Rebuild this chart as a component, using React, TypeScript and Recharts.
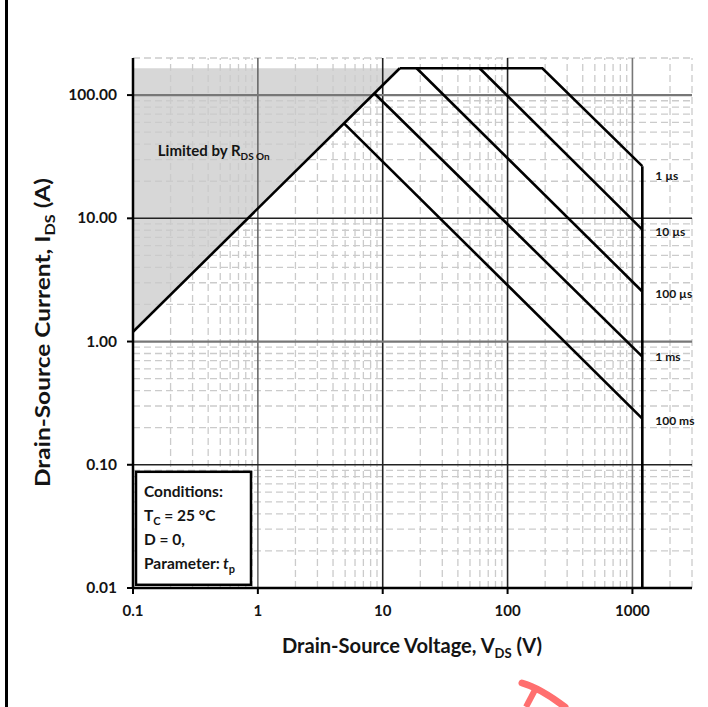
import React from 'react';
import {
  ComposedChart, Line, Area, XAxis, YAxis, ReferenceLine, ReferenceDot,
} from 'recharts';

// ---- axes ----
const xTicks = [0.1, 1, 10, 100, 1000];
const xTickLabels = ['0.1', '1', '10', '100', '1000'];
const yTicks = [0.01, 0.1, 1, 10, 100];
const yTickLabels = ['0.01', '0.10', '1.00', '10.00', '100.00'];
const xDomain = [0.1, 3000];
const yDomain = [0.01, 200];

// ---- grid ----
const xMinor = [0.2, 0.3, 0.4, 0.5, 0.6, 0.7, 0.8, 0.9, 2, 3, 4, 5, 6, 7, 8, 9, 20, 30, 40, 50, 60, 70, 80, 90,
  200, 300, 400, 500, 600, 700, 800, 900, 2000, 3000];
const yMinor = [0.02, 0.03, 0.04, 0.05, 0.06, 0.07, 0.08, 0.09, 0.2, 0.3, 0.4, 0.5, 0.6, 0.7, 0.8, 0.9,
  2, 3, 4, 5, 6, 7, 8, 9, 20, 30, 40, 50, 60, 70, 80, 90, 200];
const xMajor = [1, 10, 100, 1000];
const xMajorColor = ['#6a6a6a', '#222', '#222', '#777'];
const yMajor = [0.1, 1, 10, 100];
const yMajorColor = ['#222', '#777', '#222', '#777'];

// ---- SOA curves (V in volts, I in amps) ----
const rdsLimit = [{ v: 0.1, i: 1.2 }, { v: 13.7, i: 165 }];
const rdsShade = [{ v: 0.1, r: [1.2, 165] }, { v: 13.7, r: [165, 165] }];
const curve1us = [{ v: 13.7, i: 165 }, { v: 190, i: 165 }, { v: 1200, i: 26.5 }];
const curve10us = [{ v: 59.7, i: 165 }, { v: 1200, i: 8.1 }];
const curve100us = [{ v: 18.7, i: 165 }, { v: 1200, i: 2.55 }];
const curve1ms = [{ v: 8.6, i: 103 }, { v: 1200, i: 0.755 }];
const curve100ms = [{ v: 4.9, i: 59 }, { v: 1200, i: 0.237 }];
const vdsMax = [{ v: 1200, i: 26.5 }, { v: 1200, i: 0.01 }];
const curves = [rdsLimit, curve1us, curve10us, curve100us, curve1ms, curve100ms, vdsMax];

const pulseLabels = ['1 µs', '10 µs', '100 µs', '1 ms', '100 ms'];
const pulseLabelI = [22, 7.7, 2.45, 0.755, 0.228];
const pulseLabelV = 1200;

// top-left corner of the "Conditions" box in data units
const condCorner = { v: 0.1057, i: 0.0877 };
const condLines = ['Conditions:', 'T', 'D = 0,', 'Parameter:'];

const FONT = 'Lato, "Open Sans", sans-serif';
const INK = '#141414';

const XTick = (props: any) => {
  const { x, y, payload, index } = props;
  return (
    <text x={x} y={y} dy={14} textAnchor="middle" fontFamily={FONT} fontWeight={700} fontSize={15} fill={INK}>
      {xTickLabels[xTicks.indexOf(payload.value)] ?? xTickLabels[index]}
    </text>
  );
};
const YTick = (props: any) => {
  const { x, y, payload, index } = props;
  return (
    <text x={x} y={y} dy={5} textAnchor="end" fontFamily={FONT} fontWeight={700} fontSize={15.5} fill={INK}>
      {yTickLabels[yTicks.indexOf(payload.value)] ?? yTickLabels[index]}
    </text>
  );
};

export default function App() {
  return (
    <div style={{ position: 'absolute', left: 0, top: 0, width: 708, height: 707, background: '#fff' }}>
      <div style={{ position: 'absolute', left: 5, top: 0, width: 3, height: 707, background: '#000' }} />
      <ComposedChart
        width={708}
        height={707}
        margin={{ top: 58, right: 16, bottom: 0, left: 0 }}
      >
        <XAxis
          type="number"
          dataKey="v"
          scale="log"
          domain={xDomain}
          ticks={xTicks}
          allowDataOverflow
          height={119}
          axisLine={{ stroke: '#000', strokeWidth: 2.5 }}
          tickLine={{ stroke: '#000', strokeWidth: 2 }}
          tickSize={6}
          tickMargin={8}
          tick={<XTick />}
          label={{
            content: () => (
              <text x={282} y={653} textLength={260} lengthAdjust="spacingAndGlyphs" fontFamily={FONT}
                fontWeight={700} fontSize={20} fill={INK}>
                Drain-Source Voltage, V<tspan fontSize={13} dy={5}>DS</tspan><tspan dy={-5}> (V)</tspan>
              </text>
            ),
          }}
        />
        <YAxis
          type="number"
          dataKey="i"
          scale="log"
          domain={yDomain}
          ticks={yTicks}
          allowDataOverflow
          width={133}
          axisLine={{ stroke: '#000', strokeWidth: 2.5 }}
          tickLine={{ stroke: '#000', strokeWidth: 2 }}
          tickSize={6}
          tickMargin={10}
          tick={<YTick />}
          label={{
            content: () => (
              <text x={0} y={0} transform="translate(50,487) rotate(-90)" textLength={309}
                lengthAdjust="spacingAndGlyphs" fontFamily={FONT} fontWeight={700} fontSize={21} fill={INK}>
                Drain-Source Current, I<tspan fontSize={14} dy={5}>DS</tspan><tspan dy={-5}> (A)</tspan>
              </text>
            ),
          }}
        />

        {xMinor.map((v) => (
          <ReferenceLine key={'xm' + v} x={v} stroke="#cbcbcb" strokeWidth={1.3} strokeDasharray="7 4" />
        ))}
        {yMinor.map((v) => (
          <ReferenceLine key={'ym' + v} y={v} stroke="#cbcbcb" strokeWidth={1.3} strokeDasharray="7 4" />
        ))}

        <Area
          data={rdsShade}
          dataKey="r"
          type="linear"
          stroke="none"
          fill="#bdbdbd"
          fillOpacity={0.6}
          isAnimationActive={false}
        />

        {xMajor.map((v, k) => (
          <ReferenceLine key={'xM' + v} x={v} stroke={xMajorColor[k]} strokeWidth={1.6} />
        ))}
        {yMajor.map((v, k) => (
          <ReferenceLine key={'yM' + v} y={v} stroke={yMajorColor[k]} strokeWidth={k % 2 ? 2.2 : 1.6} />
        ))}

        {curves.map((c, k) => (
          <Line
            key={'c' + k}
            data={c}
            dataKey="i"
            type="linear"
            stroke="#000"
            strokeWidth={2.6}
            dot={false}
            activeDot={false}
            isAnimationActive={false}
          />
        ))}

        {pulseLabels.map((t, k) => (
          <ReferenceDot
            key={'pl' + k}
            x={pulseLabelV}
            y={pulseLabelI[k]}
            r={1}
            fill="none"
            stroke="none"
            label={{
              content: (p: any) => {
                const vb = p.viewBox;
                return (
                  <text x={vb.x + vb.width / 2 + 13} y={vb.y + vb.height / 2 + 4} fontFamily={FONT}
                    fontWeight={700} fontSize={12} fill={INK}>
                    {t}
                  </text>
                );
              },
            }}
          />
        ))}

        <ReferenceDot
          x={0.158}
          y={36}
          r={1}
          fill="none"
          stroke="none"
          label={{
            content: (p: any) => {
              const vb = p.viewBox;
              return (
                <text x={vb.x + 1} y={vb.y + 7} fontFamily={FONT} fontWeight={700} fontSize={15} fill={INK}>
                  Limited by R<tspan fontSize={10} dy={4}>DS On</tspan>
                </text>
              );
            },
          }}
        />

        <ReferenceDot
          x={condCorner.v}
          y={condCorner.i}
          r={1}
          fill="none"
          stroke="none"
          label={{
            content: (p: any) => {
              const vb = p.viewBox;
              const bx = vb.x + vb.width / 2;
              const by = vb.y + vb.height / 2;
              const tx = bx + 8;
              const ty = by + 25;
              return (
                <g>
                  <rect x={bx} y={by} width={115} height={113} fill="#fff" stroke="#000" strokeWidth={2.5} />
                  <text fontFamily={FONT} fontWeight={700} fontSize={15.5} fill={INK}>
                    <tspan x={tx} y={ty}>{condLines[0]}</tspan>
                    <tspan x={tx} y={ty + 24}>{condLines[1]}</tspan><tspan fontSize={11} dy={4}>C</tspan><tspan dy={-4}> = 25 °C</tspan>
                    <tspan x={tx} y={ty + 48}>{condLines[2]}</tspan>
                    <tspan x={tx} y={ty + 72}>{condLines[3]}</tspan><tspan fontStyle="italic"> t</tspan><tspan fontSize={11} dy={4}>p</tspan>
                  </text>
                </g>
              );
            },
          }}
        />
      </ComposedChart>
      <svg style={{ position: 'absolute', left: 500, top: 670 }} width={100} height={37}>
        <path d="M22 13 Q 40 18 65 37" stroke="#ff6f6f" strokeWidth={7} fill="none" strokeLinecap="round" />
        <path d="M36 18 L 26 37" stroke="#ff6f6f" strokeWidth={6} fill="none" />
      </svg>
    </div>
  );
}
